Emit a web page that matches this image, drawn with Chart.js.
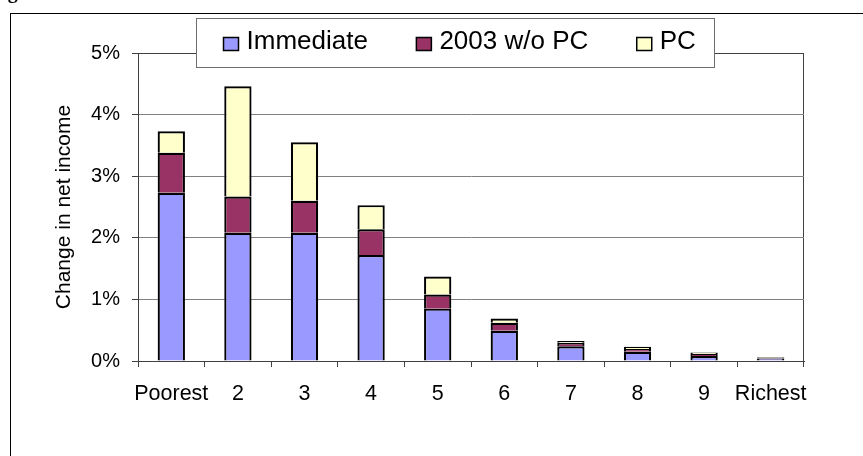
<!DOCTYPE html>
<html>
<head>
<meta charset="utf-8">
<script src="https://cdn.jsdelivr.net/npm/chart.js@4/dist/chart.umd.min.js"></script>
<style>
  html, body { margin: 0; padding: 0; background: #fff; }
  canvas { display: block; }
</style>
</head>
<body>
<canvas id="chart" width="863" height="456"></canvas>
<script>
// Income groups, poorest to richest
const categories = ['Poorest', '2', '3', '4', '5', '6', '7', '8', '9', 'Richest'];

// Change in net income, percent, by component
const immediate     = [2.73, 2.08, 2.08, 1.72, 0.85, 0.49, 0.24, 0.15, 0.08, 0.04];
const without2003PC = [0.65, 0.59, 0.52, 0.42, 0.23, 0.13, 0.055, 0.045, 0.035, 0.015];
const pcComponent   = [0.35, 1.79, 0.95, 0.39, 0.29, 0.07, 0.03, 0.035, 0.025, 0.01];

const seriesLabels = ['Immediate', '2003 w/o PC', 'PC'];
const yAxisTitle = 'Change in net income';
const yMin = 0, yMax = 5, yStep = 1;

const FONT = '"Liberation Sans", Arial, Helvetica, sans-serif';
const AXIS_DARK = '#404040';

// Outer frame and the tail of the caption above it
const framePlugin = {
  id: 'frame',
  beforeDraw(chart) {
    const ctx = chart.ctx;
    ctx.save();
    ctx.fillStyle = '#fff';
    ctx.fillRect(0, 0, chart.width, chart.height);
    ctx.fillStyle = '#000';
    ctx.font = 'bold 20px "Liberation Serif", "Times New Roman", serif';
    ctx.textBaseline = 'alphabetic';
    ctx.fillText('Figure', -10, -2);
    ctx.strokeStyle = '#000';
    ctx.lineWidth = 1;
    ctx.strokeRect(10.5, 13.5, chart.width + 40, chart.height + 40);
    ctx.restore();
  }
};

// Boxed legend sitting over the top of the plot
const boxLegendPlugin = {
  id: 'boxLegend',
  afterDraw(chart) {
    const ctx = chart.ctx;
    const left = 196, top = 18, right = 714, bottom = 67;
    ctx.save();
    ctx.fillStyle = '#fff';
    ctx.fillRect(left, top, right - left, bottom - top);
    ctx.strokeStyle = '#6e6e6e';
    ctx.lineWidth = 1;
    ctx.strokeRect(left + 0.5, top + 0.5, right - left, bottom - top);
    ctx.font = '26px ' + FONT;
    ctx.textBaseline = 'alphabetic';
    let x = 223;
    chart.data.datasets.forEach(ds => {
      ctx.fillStyle = ds.backgroundColor;
      ctx.fillRect(x + 0.5, 37.5, 15, 13);
      ctx.strokeStyle = '#000';
      ctx.lineWidth = 1.5;
      ctx.strokeRect(x + 0.5, 37.5, 15, 13);
      ctx.fillStyle = '#000';
      ctx.fillText(ds.label, x + 23.5, 49);
      x += 23.5 + ctx.measureText(ds.label).width + 48;
    });
    ctx.restore();
  }
};

const barStyle = {
  borderColor: '#000',
  borderWidth: 2.2,
  barPercentage: 0.41,
  categoryPercentage: 1.0
};

new Chart(document.getElementById('chart'), {
  type: 'bar',
  data: {
    labels: categories,
    datasets: [
      Object.assign({ label: seriesLabels[0], data: immediate,     backgroundColor: '#9999FF' }, barStyle),
      Object.assign({ label: seriesLabels[1], data: without2003PC, backgroundColor: '#993366' }, barStyle),
      Object.assign({ label: seriesLabels[2], data: pcComponent,   backgroundColor: '#FFFFCC' }, barStyle)
    ]
  },
  options: {
    responsive: false,
    animation: false,
    devicePixelRatio: 1,
    layout: { padding: { left: 0, right: 59, top: 53, bottom: 0 } },
    plugins: {
      legend: { display: false },
      tooltip: { enabled: false },
      title: { display: false }
    },
    scales: {
      x: {
        stacked: true,
        offset: true,
        grid: {
          offset: true,
          drawOnChartArea: true,
          color: c => (c.type === 'tick' ? 'rgba(0,0,0,0)' : AXIS_DARK),
          tickColor: AXIS_DARK,
          tickLength: 6,
          lineWidth: 1
        },
        border: { display: true, color: AXIS_DARK, width: 1 },
        ticks: {
          color: '#000',
          font: { family: FONT, size: 21.5 },
          padding: 14,
          maxRotation: 0,
          autoSkip: false
        },
        afterFit: s => { s.height = 95; }
      },
      y: {
        stacked: true,
        min: yMin,
        max: yMax,
        grid: {
          color: c => (c.tick && c.tick.value === yMax ? AXIS_DARK : '#808080'),
          tickColor: AXIS_DARK,
          tickLength: 6,
          lineWidth: 1
        },
        border: { display: true, color: AXIS_DARK, width: 1 },
        ticks: {
          stepSize: yStep,
          callback: v => v + '%',
          color: '#000',
          font: { family: FONT, size: 20 },
          padding: 12
        },
        title: {
          display: true,
          text: yAxisTitle,
          color: '#000',
          font: { family: FONT, size: 21 },
          padding: { top: 51.4, bottom: 0 }
        },
        afterFit: s => { s.width = 138; }
      }
    }
  },
  plugins: [framePlugin, boxLegendPlugin]
});
</script>
</body>
</html>
